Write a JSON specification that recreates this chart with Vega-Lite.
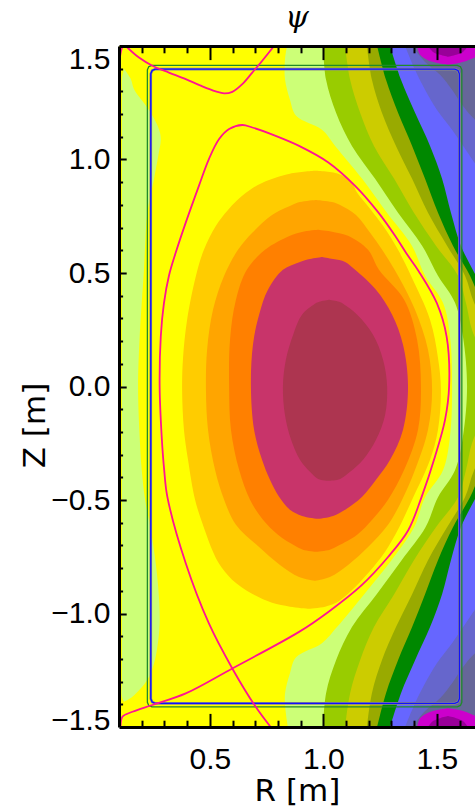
{
"$schema": "https://vega.github.io/schema/vega-lite/v6.json",
"width": 356,
"height": 681,
"autosize": {"type": "none"},
"padding": {"left": 119, "top": 46, "right": 0, "bottom": 79},
"background": "#ffffff",
"config": {"view": {"stroke": null, "fill": "#666699"}},
"title": {"text": "ψ", "font": "DejaVu Serif", "fontStyle": "italic", "fontWeight": "normal", "fontSize": 30, "color": "#000000", "anchor": "middle", "offset": 12, "dy": 26, "baseline": "alphabetic"},
"datasets": {
"b": [
{"k":"mt","z":1.5,"r1":1.413,"r2":1.69},{"k":"mt","z":1.461,"r1":1.426,"r2":1.681},{"k":"mt","z":1.439,"r1":1.457,"r2":1.642},{"k":"mt","z":1.426,"r1":1.497,"r2":1.602},{"k":"mt","z":1.417,"r1":1.549,"r2":1.549},
{"k":"mb","z":-1.5,"r1":1.413,"r2":1.69},{"k":"mb","z":-1.461,"r1":1.426,"r2":1.681},{"k":"mb","z":-1.439,"r1":1.457,"r2":1.642},{"k":"mb","z":-1.426,"r1":1.497,"r2":1.602},{"k":"mb","z":-1.417,"r1":1.549,"r2":1.549},
{"k":"dt","z":1.5,"r1":1.461,"r2":1.637},{"k":"dt","z":1.474,"r1":1.483,"r2":1.615},{"k":"dt","z":1.461,"r1":1.514,"r2":1.585},{"k":"dt","z":1.452,"r1":1.549,"r2":1.549},
{"k":"db","z":-1.5,"r1":1.461,"r2":1.637},{"k":"db","z":-1.474,"r1":1.483,"r2":1.615},{"k":"db","z":-1.461,"r1":1.514,"r2":1.585},{"k":"db","z":-1.452,"r1":1.549,"r2":1.549},
{"k":"sl","z":1.5,"r1":0.1,"r2":1.391},{"k":"sl","z":1.43,"r1":0.1,"r2":1.448},{"k":"sl","z":1.373,"r1":0.1,"r2":1.514},{"k":"sl","z":1.307,"r1":0.1,"r2":1.567},{"k":"sl","z":1.241,"r1":0.1,"r2":1.611},{"k":"sl","z":1.175,"r1":0.1,"r2":1.668},{"k":"sl","z":1.109,"r1":0.1,"r2":1.756},
{"k":"sl","z":-1.109,"r1":0.1,"r2":1.756},{"k":"sl","z":-1.175,"r1":0.1,"r2":1.668},{"k":"sl","z":-1.241,"r1":0.1,"r2":1.611},{"k":"sl","z":-1.307,"r1":0.1,"r2":1.567},{"k":"sl","z":-1.373,"r1":0.1,"r2":1.514},{"k":"sl","z":-1.43,"r1":0.1,"r2":1.448},{"k":"sl","z":-1.5,"r1":0.1,"r2":1.391},
{"k":"bl","z":1.5,"r1":0.1,"r2":1.36},{"k":"bl","z":1.395,"r1":0.1,"r2":1.404},{"k":"bl","z":1.307,"r1":0.1,"r2":1.448},{"k":"bl","z":1.219,"r1":0.1,"r2":1.5},{"k":"bl","z":1.131,"r1":0.1,"r2":1.567},{"k":"bl","z":1.042,"r1":0.1,"r2":1.628},{"k":"bl","z":0.954,"r1":0.1,"r2":1.69},{"k":"bl","z":0.867,"r1":0.1,"r2":1.778},
{"k":"bl","z":-0.867,"r1":0.1,"r2":1.778},{"k":"bl","z":-0.954,"r1":0.1,"r2":1.69},{"k":"bl","z":-1.042,"r1":0.1,"r2":1.628},{"k":"bl","z":-1.131,"r1":0.1,"r2":1.567},{"k":"bl","z":-1.219,"r1":0.1,"r2":1.5},{"k":"bl","z":-1.307,"r1":0.1,"r2":1.448},{"k":"bl","z":-1.395,"r1":0.1,"r2":1.404},{"k":"bl","z":-1.5,"r1":0.1,"r2":1.36},
{"k":"gr","z":1.5,"r1":0.1,"r2":1.294},{"k":"gr","z":1.351,"r1":0.1,"r2":1.342},{"k":"gr","z":1.206,"r1":0.1,"r2":1.404},{"k":"gr","z":1.06,"r1":0.1,"r2":1.47},{"k":"gr","z":0.915,"r1":0.1,"r2":1.523},{"k":"gr","z":0.765,"r1":0.1,"r2":1.562},{"k":"gr","z":0.62,"r1":0.1,"r2":1.606},{"k":"gr","z":0.488,"r1":0.1,"r2":1.672},{"k":"gr","z":0.369,"r1":0.1,"r2":1.734},
{"k":"gr","z":-0.369,"r1":0.1,"r2":1.734},{"k":"gr","z":-0.488,"r1":0.1,"r2":1.672},{"k":"gr","z":-0.62,"r1":0.1,"r2":1.606},{"k":"gr","z":-0.765,"r1":0.1,"r2":1.562},{"k":"gr","z":-0.915,"r1":0.1,"r2":1.523},{"k":"gr","z":-1.06,"r1":0.1,"r2":1.47},{"k":"gr","z":-1.206,"r1":0.1,"r2":1.404},{"k":"gr","z":-1.351,"r1":0.1,"r2":1.342},{"k":"gr","z":-1.5,"r1":0.1,"r2":1.294},
{"k":"ol","z":1.5,"r1":0.1,"r2":1.237},{"k":"ol","z":1.351,"r1":0.1,"r2":1.276},{"k":"ol","z":1.206,"r1":0.1,"r2":1.329},{"k":"ol","z":1.06,"r1":0.1,"r2":1.391},{"k":"ol","z":0.915,"r1":0.1,"r2":1.448},{"k":"ol","z":0.765,"r1":0.1,"r2":1.505},{"k":"ol","z":0.62,"r1":0.1,"r2":1.571},{"k":"ol","z":0.488,"r1":0.1,"r2":1.646},{"k":"ol","z":0.369,"r1":0.1,"r2":1.699},{"k":"ol","z":0.249,"r1":0.1,"r2":1.778},
{"k":"ol","z":-0.249,"r1":0.1,"r2":1.778},{"k":"ol","z":-0.369,"r1":0.1,"r2":1.699},{"k":"ol","z":-0.488,"r1":0.1,"r2":1.646},{"k":"ol","z":-0.62,"r1":0.1,"r2":1.571},{"k":"ol","z":-0.765,"r1":0.1,"r2":1.505},{"k":"ol","z":-0.915,"r1":0.1,"r2":1.448},{"k":"ol","z":-1.06,"r1":0.1,"r2":1.391},{"k":"ol","z":-1.206,"r1":0.1,"r2":1.329},{"k":"ol","z":-1.351,"r1":0.1,"r2":1.276},{"k":"ol","z":-1.5,"r1":0.1,"r2":1.237},
{"k":"oy","z":1.5,"r1":0.1,"r2":1.192},{"k":"oy","z":1.351,"r1":0.1,"r2":1.214},{"k":"oy","z":1.206,"r1":0.1,"r2":1.258},{"k":"oy","z":1.06,"r1":0.1,"r2":1.32},{"k":"oy","z":0.915,"r1":0.1,"r2":1.391},{"k":"oy","z":0.765,"r1":0.1,"r2":1.461},{"k":"oy","z":0.62,"r1":0.1,"r2":1.545},{"k":"oy","z":0.488,"r1":0.1,"r2":1.624},{"k":"oy","z":0.369,"r1":0.1,"r2":1.664},{"k":"oy","z":0.249,"r1":0.1,"r2":1.734},{"k":"oy","z":0.15,"r1":0.1,"r2":1.78},
{"k":"oy","z":-0.15,"r1":0.1,"r2":1.78},{"k":"oy","z":-0.249,"r1":0.1,"r2":1.734},{"k":"oy","z":-0.369,"r1":0.1,"r2":1.664},{"k":"oy","z":-0.488,"r1":0.1,"r2":1.624},{"k":"oy","z":-0.62,"r1":0.1,"r2":1.545},{"k":"oy","z":-0.765,"r1":0.1,"r2":1.461},{"k":"oy","z":-0.915,"r1":0.1,"r2":1.391},{"k":"oy","z":-1.06,"r1":0.1,"r2":1.32},{"k":"oy","z":-1.206,"r1":0.1,"r2":1.258},{"k":"oy","z":-1.351,"r1":0.1,"r2":1.214},{"k":"oy","z":-1.5,"r1":0.1,"r2":1.192},
{"k":"yg","z":1.5,"r1":0.1,"r2":1.096},{"k":"yg","z":1.351,"r1":0.1,"r2":1.118},{"k":"yg","z":1.206,"r1":0.1,"r2":1.162},{"k":"yg","z":1.06,"r1":0.1,"r2":1.223},{"k":"yg","z":0.915,"r1":0.1,"r2":1.312},{"k":"yg","z":0.765,"r1":0.1,"r2":1.399},{"k":"yg","z":0.62,"r1":0.1,"r2":1.496},{"k":"yg","z":0.488,"r1":0.1,"r2":1.593},{"k":"yg","z":0.369,"r1":0.1,"r2":1.628},{"k":"yg","z":0.249,"r1":0.1,"r2":1.655},{"k":"yg","z":0.118,"r1":0.1,"r2":1.712},{"k":"yg","z":0,"r1":0.1,"r2":1.734},
{"k":"yg","z":-0.118,"r1":0.1,"r2":1.712},{"k":"yg","z":-0.249,"r1":0.1,"r2":1.655},{"k":"yg","z":-0.369,"r1":0.1,"r2":1.628},{"k":"yg","z":-0.488,"r1":0.1,"r2":1.593},{"k":"yg","z":-0.62,"r1":0.1,"r2":1.496},{"k":"yg","z":-0.765,"r1":0.1,"r2":1.399},{"k":"yg","z":-0.915,"r1":0.1,"r2":1.312},{"k":"yg","z":-1.06,"r1":0.1,"r2":1.223},{"k":"yg","z":-1.206,"r1":0.1,"r2":1.162},{"k":"yg","z":-1.351,"r1":0.1,"r2":1.118},{"k":"yg","z":-1.5,"r1":0.1,"r2":1.096},
{"k":"lg","z":1.5,"r1":0.1,"r2":0.999},{"k":"lg","z":1.351,"r1":0.1,"r2":1.012},{"k":"lg","z":1.206,"r1":0.1,"r2":1.056},{"k":"lg","z":1.06,"r1":0.1,"r2":1.126},{"k":"lg","z":0.915,"r1":0.1,"r2":1.228},{"k":"lg","z":0.765,"r1":0.1,"r2":1.329},{"k":"lg","z":0.62,"r1":0.1,"r2":1.435},{"k":"lg","z":0.488,"r1":0.1,"r2":1.505},{"k":"lg","z":0.369,"r1":0.1,"r2":1.58},{"k":"lg","z":0.219,"r1":0.1,"r2":1.615},{"k":"lg","z":0,"r1":0.1,"r2":1.633},
{"k":"lg","z":-0.219,"r1":0.1,"r2":1.615},{"k":"lg","z":-0.369,"r1":0.1,"r2":1.58},{"k":"lg","z":-0.488,"r1":0.1,"r2":1.505},{"k":"lg","z":-0.62,"r1":0.1,"r2":1.45},{"k":"lg","z":-0.765,"r1":0.1,"r2":1.345},{"k":"lg","z":-0.915,"r1":0.1,"r2":1.235},{"k":"lg","z":-1.06,"r1":0.1,"r2":1.126},{"k":"lg","z":-1.206,"r1":0.1,"r2":1.056},{"k":"lg","z":-1.351,"r1":0.1,"r2":1.012},{"k":"lg","z":-1.5,"r1":0.1,"r2":0.999},
{"k":"ye","z":1.5,"r1":0.1,"r2":0.84},{"k":"ye","z":1.439,"r1":0.1,"r2":0.831},{"k":"ye","z":1.355,"r1":0.1,"r2":0.831},{"k":"ye","z":1.263,"r1":0.1,"r2":0.853},{"k":"ye","z":1.193,"r1":0.1,"r2":0.88},{"k":"ye","z":1.131,"r1":0.1,"r2":0.994},{"k":"ye","z":1.06,"r1":0.1,"r2":1.052},{"k":"ye","z":0.915,"r1":0.1,"r2":1.171},{"k":"ye","z":0.765,"r1":0.1,"r2":1.28},{"k":"ye","z":0.62,"r1":0.1,"r2":1.39},{"k":"ye","z":0.488,"r1":0.1,"r2":1.448},{"k":"ye","z":0.369,"r1":0.1,"r2":1.527},{"k":"ye","z":0.219,"r1":0.1,"r2":1.558},{"k":"ye","z":0,"r1":0.1,"r2":1.567},
{"k":"ye","z":-0.219,"r1":0.1,"r2":1.558},{"k":"ye","z":-0.369,"r1":0.1,"r2":1.527},{"k":"ye","z":-0.488,"r1":0.1,"r2":1.448},{"k":"ye","z":-0.62,"r1":0.1,"r2":1.4},{"k":"ye","z":-0.765,"r1":0.1,"r2":1.3},{"k":"ye","z":-0.915,"r1":0.1,"r2":1.18},{"k":"ye","z":-1.06,"r1":0.1,"r2":1.06},{"k":"ye","z":-1.131,"r1":0.1,"r2":0.994},{"k":"ye","z":-1.193,"r1":0.1,"r2":0.88},{"k":"ye","z":-1.263,"r1":0.1,"r2":0.853},{"k":"ye","z":-1.355,"r1":0.1,"r2":0.831},{"k":"ye","z":-1.439,"r1":0.1,"r2":0.835},{"k":"ye","z":-1.5,"r1":0.1,"r2":0.844},
{"k":"st","z":1.4,"r1":0.122,"r2":0.122},{"k":"st","z":1.355,"r1":0.113,"r2":0.152},{"k":"st","z":1.31,"r1":0.113,"r2":0.166},{"k":"st","z":1.249,"r1":0.113,"r2":0.21},{"k":"st","z":1.206,"r1":0.113,"r2":0.24},{"k":"st","z":1.133,"r1":0.113,"r2":0.276},{"k":"st","z":1.09,"r1":0.113,"r2":0.284},{"k":"st","z":1.016,"r1":0.113,"r2":0.273},{"k":"st","z":0.914,"r1":0.113,"r2":0.254},{"k":"st","z":0.767,"r1":0.113,"r2":0.225},{"k":"st","z":0.62,"r1":0.113,"r2":0.215},{"k":"st","z":0.514,"r1":0.113,"r2":0.21},{"k":"st","z":0.367,"r1":0.113,"r2":0.2},{"k":"st","z":0.219,"r1":0.113,"r2":0.191},{"k":"st","z":0,"r1":0.113,"r2":0.184},
{"k":"st","z":-0.221,"r1":0.113,"r2":0.191},{"k":"st","z":-0.367,"r1":0.113,"r2":0.2},{"k":"st","z":-0.499,"r1":0.113,"r2":0.215},{"k":"st","z":-0.631,"r1":0.113,"r2":0.24},{"k":"st","z":-0.781,"r1":0.113,"r2":0.262},{"k":"st","z":-0.928,"r1":0.113,"r2":0.276},{"k":"st","z":-1.046,"r1":0.113,"r2":0.279},{"k":"st","z":-1.147,"r1":0.113,"r2":0.269},{"k":"st","z":-1.221,"r1":0.113,"r2":0.254},{"k":"st","z":-1.292,"r1":0.113,"r2":0.225},{"k":"st","z":-1.367,"r1":0.113,"r2":0.159},{"k":"st","z":-1.389,"r1":0.122,"r2":0.122},
{"k":"go","z":0.95,"r1":0.963,"r2":0.963},{"k":"go","z":0.937,"r1":0.853,"r2":1.065},{"k":"go","z":0.897,"r1":0.73,"r2":1.126},{"k":"go","z":0.853,"r1":0.659,"r2":1.149},{"k":"go","z":0.778,"r1":0.58,"r2":1.21},{"k":"go","z":0.708,"r1":0.527,"r2":1.263},{"k":"go","z":0.602,"r1":0.474,"r2":1.329},{"k":"go","z":0.488,"r1":0.439,"r2":1.386},{"k":"go","z":0.294,"r1":0.4,"r2":1.47},{"k":"go","z":0.126,"r1":0.382,"r2":1.505},{"k":"go","z":-0.015,"r1":0.378,"r2":1.518},
{"k":"go","z":-0.19,"r1":0.386,"r2":1.505},{"k":"go","z":-0.323,"r1":0.404,"r2":1.47},{"k":"go","z":-0.499,"r1":0.435,"r2":1.391},{"k":"go","z":-0.622,"r1":0.474,"r2":1.333},{"k":"go","z":-0.728,"r1":0.514,"r2":1.272},{"k":"go","z":-0.781,"r1":0.541,"r2":1.232},{"k":"go","z":-0.851,"r1":0.598,"r2":1.171},{"k":"go","z":-0.913,"r1":0.686,"r2":1.109},{"k":"go","z":-0.953,"r1":0.774,"r2":1.056},{"k":"go","z":-0.97,"r1":0.853,"r2":1.008},{"k":"go","z":-0.979,"r1":0.933,"r2":0.933},
{"k":"or","z":0.822,"r1":0.968,"r2":0.968},{"k":"or","z":0.813,"r1":0.897,"r2":1.038},{"k":"or","z":0.8,"r1":0.862,"r2":1.074},{"k":"or","z":0.756,"r1":0.774,"r2":1.144},{"k":"or","z":0.677,"r1":0.687,"r2":1.206},{"k":"or","z":0.602,"r1":0.624,"r2":1.259},{"k":"or","z":0.488,"r1":0.563,"r2":1.329},{"k":"or","z":0.338,"r1":0.514,"r2":1.404},{"k":"or","z":0.162,"r1":0.488,"r2":1.461},{"k":"or","z":-0.015,"r1":0.483,"r2":1.479},
{"k":"or","z":-0.19,"r1":0.492,"r2":1.461},{"k":"or","z":-0.367,"r1":0.523,"r2":1.404},{"k":"or","z":-0.499,"r1":0.563,"r2":1.347},{"k":"or","z":-0.609,"r1":0.615,"r2":1.285},{"k":"or","z":-0.707,"r1":0.717,"r2":1.197},{"k":"or","z":-0.786,"r1":0.809,"r2":1.109},{"k":"or","z":-0.839,"r1":0.893,"r2":1.029},{"k":"or","z":-0.856,"r1":0.963,"r2":0.963},
{"k":"dk","z":0.69,"r1":0.977,"r2":0.977},{"k":"dk","z":0.681,"r1":0.906,"r2":1.043},{"k":"dk","z":0.664,"r1":0.853,"r2":1.109},{"k":"dk","z":0.602,"r1":0.743,"r2":1.197},{"k":"dk","z":0.514,"r1":0.663,"r2":1.245},{"k":"dk","z":0.382,"r1":0.615,"r2":1.356},{"k":"dk","z":0.206,"r1":0.589,"r2":1.413},{"k":"dk","z":0,"r1":0.585,"r2":1.43},
{"k":"dk","z":-0.19,"r1":0.593,"r2":1.417},{"k":"dk","z":-0.367,"r1":0.629,"r2":1.356},{"k":"dk","z":-0.499,"r1":0.677,"r2":1.285},{"k":"dk","z":-0.587,"r1":0.734,"r2":1.215},{"k":"dk","z":-0.653,"r1":0.8,"r2":1.149},{"k":"dk","z":-0.702,"r1":0.875,"r2":1.065},{"k":"dk","z":-0.719,"r1":0.91,"r2":1.029},{"k":"dk","z":-0.728,"r1":0.968,"r2":0.968},
{"k":"cr","z":0.571,"r1":0.994,"r2":0.994},{"k":"cr","z":0.562,"r1":0.941,"r2":1.043},{"k":"cr","z":0.549,"r1":0.897,"r2":1.096},{"k":"cr","z":0.514,"r1":0.822,"r2":1.14},{"k":"cr","z":0.426,"r1":0.756,"r2":1.232},{"k":"cr","z":0.316,"r1":0.717,"r2":1.303},{"k":"cr","z":0.184,"r1":0.69,"r2":1.351},{"k":"cr","z":0,"r1":0.681,"r2":1.373},
{"k":"cr","z":-0.19,"r1":0.695,"r2":1.351},{"k":"cr","z":-0.323,"r1":0.73,"r2":1.294},{"k":"cr","z":-0.411,"r1":0.765,"r2":1.232},{"k":"cr","z":-0.486,"r1":0.805,"r2":1.171},{"k":"cr","z":-0.543,"r1":0.853,"r2":1.096},{"k":"cr","z":-0.57,"r1":0.906,"r2":1.043},{"k":"cr","z":-0.583,"r1":0.977,"r2":0.977},
{"k":"co","z":0.382,"r1":1.025,"r2":1.025},{"k":"co","z":0.373,"r1":0.982,"r2":1.07},{"k":"co","z":0.364,"r1":0.963,"r2":1.087},{"k":"co","z":0.316,"r1":0.906,"r2":1.149},{"k":"co","z":0.228,"r1":0.867,"r2":1.219},{"k":"co","z":0.118,"r1":0.835,"r2":1.263},{"k":"co","z":0,"r1":0.822,"r2":1.281},
{"k":"co","z":-0.125,"r1":0.831,"r2":1.272},{"k":"co","z":-0.235,"r1":0.858,"r2":1.232},{"k":"co","z":-0.323,"r1":0.897,"r2":1.175},{"k":"co","z":-0.376,"r1":0.941,"r2":1.118},{"k":"co","z":-0.407,"r1":0.977,"r2":1.074},{"k":"co","z":-0.415,"r1":1.025,"r2":1.025}
],
"l": [
{"k":"wy","i":0,"r1":0.26,"z":1.398},{"k":"wy","i":1,"r1":1.579,"z":1.398},{"k":"wy","i":2,"r1":1.593,"z":1.392},{"k":"wy","i":3,"r1":1.599,"z":1.378},{"k":"wy","i":4,"r1":1.599,"z":-1.376},{"k":"wy","i":5,"r1":1.593,"z":-1.39},{"k":"wy","i":6,"r1":1.579,"z":-1.396},{"k":"wy","i":7,"r1":0.26,"z":-1.396},{"k":"wy","i":8,"r1":0.246,"z":-1.39},{"k":"wy","i":9,"r1":0.24,"z":-1.376},{"k":"wy","i":10,"r1":0.24,"z":1.378},{"k":"wy","i":11,"r1":0.246,"z":1.392},{"k":"wy","i":12,"r1":0.26,"z":1.398},
{"k":"wb","i":0,"r1":0.26,"z":1.398},{"k":"wb","i":1,"r1":1.579,"z":1.398},{"k":"wb","i":2,"r1":1.593,"z":1.392},{"k":"wb","i":3,"r1":1.599,"z":1.378},{"k":"wb","i":4,"r1":1.599,"z":-1.376},{"k":"wb","i":5,"r1":1.593,"z":-1.39},{"k":"wb","i":6,"r1":1.579,"z":-1.396},{"k":"wb","i":7,"r1":0.26,"z":-1.396},{"k":"wb","i":8,"r1":0.246,"z":-1.39},{"k":"wb","i":9,"r1":0.24,"z":-1.376},{"k":"wb","i":10,"r1":0.24,"z":1.378},{"k":"wb","i":11,"r1":0.246,"z":1.392},{"k":"wb","i":12,"r1":0.26,"z":1.398},
{"k":"wg","i":0,"r1":0.245,"z":1.415},{"k":"wg","i":1,"r1":1.59,"z":1.415},{"k":"wg","i":2,"r1":1.604,"z":1.409},{"k":"wg","i":3,"r1":1.61,"z":1.395},{"k":"wg","i":4,"r1":1.61,"z":-1.391},{"k":"wg","i":5,"r1":1.604,"z":-1.405},{"k":"wg","i":6,"r1":1.59,"z":-1.411},{"k":"wg","i":7,"r1":0.245,"z":-1.411},{"k":"wg","i":8,"r1":0.231,"z":-1.405},{"k":"wg","i":9,"r1":0.225,"z":-1.391},{"k":"wg","i":10,"r1":0.225,"z":1.395},{"k":"wg","i":11,"r1":0.231,"z":1.409},{"k":"wg","i":12,"r1":0.245,"z":1.415},
{"k":"lc","i":0,"r1":0.768,"z":-1.5},{"k":"lc","i":1,"r1":0.702,"z":-1.411},{"k":"lc","i":2,"r1":0.599,"z":-1.242},{"k":"lc","i":3,"r1":0.496,"z":-1.044},{"k":"lc","i":4,"r1":0.394,"z":-0.779},{"k":"lc","i":5,"r1":0.313,"z":-0.486},{"k":"lc","i":6,"r1":0.299,"z":-0.367},{"k":"lc","i":7,"r1":0.288,"z":-0.22},{"k":"lc","i":8,"r1":0.279,"z":0},{"k":"lc","i":9,"r1":0.284,"z":0.22},{"k":"lc","i":10,"r1":0.298,"z":0.367},{"k":"lc","i":11,"r1":0.32,"z":0.488},{"k":"lc","i":12,"r1":0.35,"z":0.59},{"k":"lc","i":13,"r1":0.394,"z":0.722},{"k":"lc","i":14,"r1":0.452,"z":0.884},{"k":"lc","i":15,"r1":0.496,"z":1.002},{"k":"lc","i":16,"r1":0.541,"z":1.09},{"k":"lc","i":17,"r1":0.585,"z":1.134},{"k":"lc","i":18,"r1":0.643,"z":1.152},{"k":"lc","i":19,"r1":0.687,"z":1.141},{"k":"lc","i":20,"r1":0.79,"z":1.104},{"k":"lc","i":21,"r1":0.893,"z":1.06},{"k":"lc","i":22,"r1":1.022,"z":0.987},{"k":"lc","i":23,"r1":1.14,"z":0.884},{"k":"lc","i":24,"r1":1.242,"z":0.767},{"k":"lc","i":25,"r1":1.316,"z":0.664},{"k":"lc","i":26,"r1":1.37,"z":0.58},{"k":"lc","i":27,"r1":1.42,"z":0.508},{"k":"lc","i":28,"r1":1.5,"z":0.367},{"k":"lc","i":29,"r1":1.543,"z":0.22},{"k":"lc","i":30,"r1":1.554,"z":0},{"k":"lc","i":31,"r1":1.536,"z":-0.147},{"k":"lc","i":32,"r1":1.492,"z":-0.308},{"k":"lc","i":33,"r1":1.433,"z":-0.486},{"k":"lc","i":34,"r1":1.374,"z":-0.633},{"k":"lc","i":35,"r1":1.286,"z":-0.75},{"k":"lc","i":36,"r1":1.169,"z":-0.875},{"k":"lc","i":37,"r1":1.022,"z":-0.993},{"k":"lc","i":38,"r1":0.893,"z":-1.081},{"k":"lc","i":39,"r1":0.599,"z":-1.242},{"k":"lc","i":40,"r1":0.394,"z":-1.352},{"k":"lc","i":41,"r1":0.247,"z":-1.403},{"k":"lc","i":42,"r1":0.159,"z":-1.433},{"k":"lc","i":43,"r1":0.115,"z":-1.455},{"k":"lc","i":44,"r1":0.107,"z":-1.5},
{"k":"xa","i":0,"r1":0.13,"z":1.5},{"k":"xa","i":1,"r1":0.188,"z":1.449},{"k":"xa","i":2,"r1":0.247,"z":1.413},{"k":"xa","i":3,"r1":0.32,"z":1.383},{"k":"xa","i":4,"r1":0.394,"z":1.354},{"k":"xa","i":5,"r1":0.467,"z":1.322},{"k":"xa","i":6,"r1":0.526,"z":1.3},{"k":"xa","i":7,"r1":0.563,"z":1.291},{"k":"xa","i":8,"r1":0.599,"z":1.298},{"k":"xa","i":9,"r1":0.643,"z":1.332},{"k":"xa","i":10,"r1":0.687,"z":1.383},{"k":"xa","i":11,"r1":0.731,"z":1.435},{"k":"xa","i":12,"r1":0.783,"z":1.5},
{"k":"ar","i":0,"r1":0.1,"z":1.42},{"k":"ar","i":1,"r1":0.104,"z":1.45},{"k":"ar","i":2,"r1":0.109,"z":1.478},{"k":"ar","i":3,"r1":0.116,"z":1.5}
]
},
"encoding": {
"x": {"field": "r1", "type": "quantitative", "scale": {"domain": [0.1, 1.668], "nice": false, "zero": false}, "axis": null, "stack": null},
"y": {"field": "z", "type": "quantitative", "scale": {"domain": [-1.5, 1.5], "nice": false, "zero": false}, "axis": null}
},
"layer": [
{"data": {"name": "b"}, "transform": [{"filter": {"field": "k", "oneOf": ["mt", "mb"]}}], "mark": {"type": "area", "orient": "horizontal", "interpolate": "catmull-rom", "color": "#cc00cc", "clip": true}, "encoding": {"x2": {"field": "r2"}, "detail": {"field": "k", "type": "nominal"}}},
{"data": {"name": "b"}, "transform": [{"filter": {"field": "k", "oneOf": ["dt", "db"]}}], "mark": {"type": "area", "orient": "horizontal", "interpolate": "catmull-rom", "color": "#990099", "clip": true}, "encoding": {"x2": {"field": "r2"}, "detail": {"field": "k", "type": "nominal"}}},
{"data": {"name": "b"}, "transform": [{"filter": {"field": "k", "equal": "sl"}}], "mark": {"type": "area", "orient": "horizontal", "interpolate": "catmull-rom", "color": "#6666cc", "clip": true}, "encoding": {"x2": {"field": "r2"}}},
{"data": {"name": "b"}, "transform": [{"filter": {"field": "k", "equal": "bl"}}], "mark": {"type": "area", "orient": "horizontal", "interpolate": "catmull-rom", "color": "#6666ff", "clip": true}, "encoding": {"x2": {"field": "r2"}}},
{"data": {"name": "b"}, "transform": [{"filter": {"field": "k", "equal": "gr"}}], "mark": {"type": "area", "orient": "horizontal", "interpolate": "catmull-rom", "color": "#008800", "clip": true}, "encoding": {"x2": {"field": "r2"}}},
{"data": {"name": "b"}, "transform": [{"filter": {"field": "k", "equal": "ol"}}], "mark": {"type": "area", "orient": "horizontal", "interpolate": "catmull-rom", "color": "#99aa00", "clip": true}, "encoding": {"x2": {"field": "r2"}}},
{"data": {"name": "b"}, "transform": [{"filter": {"field": "k", "equal": "oy"}}], "mark": {"type": "area", "orient": "horizontal", "interpolate": "catmull-rom", "color": "#cccc00", "clip": true}, "encoding": {"x2": {"field": "r2"}}},
{"data": {"name": "b"}, "transform": [{"filter": {"field": "k", "equal": "yg"}}], "mark": {"type": "area", "orient": "horizontal", "interpolate": "catmull-rom", "color": "#99cc00", "clip": true}, "encoding": {"x2": {"field": "r2"}}},
{"data": {"name": "b"}, "transform": [{"filter": {"field": "k", "equal": "lg"}}], "mark": {"type": "area", "orient": "horizontal", "interpolate": "catmull-rom", "color": "#ccff77", "clip": true}, "encoding": {"x2": {"field": "r2"}}},
{"data": {"name": "b"}, "transform": [{"filter": {"field": "k", "equal": "ye"}}], "mark": {"type": "area", "orient": "horizontal", "interpolate": "catmull-rom", "color": "#ffff00", "clip": true}, "encoding": {"x2": {"field": "r2"}}},
{"data": {"name": "b"}, "transform": [{"filter": {"field": "k", "equal": "st"}}], "mark": {"type": "area", "orient": "horizontal", "interpolate": "catmull-rom", "color": "#ccff77", "clip": true}, "encoding": {"x2": {"field": "r2"}}},
{"data": {"name": "b"}, "transform": [{"filter": {"field": "k", "equal": "go"}}], "mark": {"type": "area", "orient": "horizontal", "interpolate": "catmull-rom", "color": "#ffcc00", "clip": true}, "encoding": {"x2": {"field": "r2"}}},
{"data": {"name": "b"}, "transform": [{"filter": {"field": "k", "equal": "or"}}], "mark": {"type": "area", "orient": "horizontal", "interpolate": "catmull-rom", "color": "#ffa500", "clip": true}, "encoding": {"x2": {"field": "r2"}}},
{"data": {"name": "b"}, "transform": [{"filter": {"field": "k", "equal": "dk"}}], "mark": {"type": "area", "orient": "horizontal", "interpolate": "catmull-rom", "color": "#ff8000", "clip": true}, "encoding": {"x2": {"field": "r2"}}},
{"data": {"name": "b"}, "transform": [{"filter": {"field": "k", "equal": "cr"}}], "mark": {"type": "area", "orient": "horizontal", "interpolate": "catmull-rom", "color": "#c8346a", "clip": true}, "encoding": {"x2": {"field": "r2"}}},
{"data": {"name": "b"}, "transform": [{"filter": {"field": "k", "equal": "co"}}], "mark": {"type": "area", "orient": "horizontal", "interpolate": "catmull-rom", "color": "#ad3550", "clip": true}, "encoding": {"x2": {"field": "r2"}}},
{"data": {"name": "l"}, "transform": [{"filter": {"field": "k", "equal": "wy"}}], "mark": {"type": "line", "color": "#8a8a8a", "strokeWidth": 2.6, "clip": true}, "encoding": {"order": {"field": "i", "type": "quantitative"}}},
{"data": {"name": "l"}, "transform": [{"filter": {"field": "k", "equal": "wb"}}], "mark": {"type": "line", "color": "#1010ff", "strokeWidth": 1.3, "clip": true}, "encoding": {"order": {"field": "i", "type": "quantitative"}}},
{"data": {"name": "l"}, "transform": [{"filter": {"field": "k", "equal": "wg"}}], "mark": {"type": "line", "color": "#1f8a2a", "strokeWidth": 1.3, "clip": true}, "encoding": {"order": {"field": "i", "type": "quantitative"}}},
{"data": {"name": "l"}, "transform": [{"filter": {"field": "k", "oneOf": ["lc", "xa", "ar"]}}], "mark": {"type": "line", "color": "#ff1493", "strokeWidth": 1.8, "interpolate": "catmull-rom", "clip": true}, "encoding": {"detail": {"field": "k", "type": "nominal"}, "order": {"field": "i", "type": "quantitative"}}},
{"data": {"name": "l"}, "mark": {"type": "point", "opacity": 0},
 "encoding": {
  "x": {"field": "r1", "type": "quantitative", "scale": {"domain": [0.1, 1.668], "nice": false, "zero": false},
   "axis": {"orient": "bottom", "values": [0.5, 1.0, 1.5], "format": ".1f", "ticks": false, "grid": false, "domain": true, "domainColor": "#000000", "domainWidth": 3, "labelFont": "Liberation Sans", "labelFontSize": 30, "labelColor": "#000000", "labelPadding": 17, "labelFlush": false, "labelOverlap": false, "title": "R [m]", "titleFont": "DejaVu Sans", "titleFontSize": 31, "titleFontWeight": "normal", "titleColor": "#000000", "titleY": 73, "titleBaseline": "alphabetic", "zindex": 2}},
  "y": {"field": "z", "type": "quantitative", "scale": {"domain": [-1.5, 1.5], "nice": false, "zero": false},
   "axis": {"orient": "left", "values": [-1.5, -1.0, -0.5, 0, 0.5, 1.0, 1.5], "format": ".1f", "ticks": false, "grid": false, "domain": true, "domainColor": "#000000", "domainWidth": 3, "labelFont": "Liberation Sans", "labelFontSize": 30, "labelColor": "#000000", "labelPadding": 9, "labelFlush": false, "labelOverlap": false,
    "labelOffset": {"condition": [{"test": "datum.value > 1.4", "value": 13}, {"test": "datum.value < -1.4", "value": -7}], "value": 0},
    "title": "Z [m]", "titleFont": "DejaVu Sans", "titleFontSize": 31, "titleFontWeight": "normal", "titleColor": "#000000", "titleX": -84, "titleY": 379, "titleAngle": -90, "titleBaseline": "middle", "titleAlign": "center", "zindex": 2}}
 }},
{"data": {"name": "l"}, "mark": {"type": "point", "opacity": 0},
 "encoding": {
  "x": {"field": "r1", "type": "quantitative", "scale": {"domain": [0.1, 1.668], "nice": false, "zero": false},
   "axis": {"orient": "bottom", "values": [0.5, 1.0, 1.5], "ticks": true, "tickSize": -13.6, "tickWidth": 2, "tickColor": "#000000", "labels": false, "domain": false, "grid": false, "title": null, "zindex": 2}},
  "y": {"field": "z", "type": "quantitative", "scale": {"domain": [-1.5, 1.5], "nice": false, "zero": false},
   "axis": {"orient": "left", "values": [-1.0, -0.5, 0, 0.5, 1.0], "ticks": true, "tickSize": -7.2, "tickWidth": 2, "tickColor": "#000000", "labels": false, "domain": false, "grid": false, "title": null, "zindex": 2}}
 }},
{"data": {"name": "l"}, "mark": {"type": "point", "opacity": 0},
 "encoding": {
  "x": {"field": "r1", "type": "quantitative", "scale": {"domain": [0.1, 1.668], "nice": false, "zero": false},
   "axis": {"orient": "bottom", "values": [0.2, 0.3, 0.4, 0.6, 0.7, 0.8, 0.9, 1.1, 1.2, 1.3, 1.4, 1.6], "ticks": true, "tickSize": -6.8, "tickWidth": 2, "tickColor": "#000000", "labels": false, "domain": false, "grid": false, "title": null, "zindex": 2}},
  "y": {"field": "z", "type": "quantitative", "scale": {"domain": [-1.5, 1.5], "nice": false, "zero": false},
   "axis": {"orient": "left", "values": [-1.4, -1.3, -1.2, -1.1, -0.9, -0.8, -0.7, -0.6, -0.4, -0.3, -0.2, -0.1, 0.1, 0.2, 0.3, 0.4, 0.6, 0.7, 0.8, 0.9, 1.1, 1.2, 1.3, 1.4], "ticks": true, "tickSize": -3.6, "tickWidth": 2, "tickColor": "#000000", "labels": false, "domain": false, "grid": false, "title": null, "zindex": 2}}
 }},
{"data": {"name": "l"}, "mark": {"type": "point", "opacity": 0},
 "encoding": {
  "x": {"field": "r1", "type": "quantitative", "scale": {"domain": [0.1, 1.668], "nice": false, "zero": false},
   "axis": {"orient": "top", "values": [0.5, 1.0, 1.5], "ticks": true, "tickSize": -13.6, "tickWidth": 2, "tickColor": "#000000", "labels": false, "domain": true, "domainColor": "#000000", "domainWidth": 3, "grid": false, "title": null, "zindex": 2}}
 }},
{"data": {"name": "l"}, "mark": {"type": "point", "opacity": 0},
 "encoding": {
  "x": {"field": "r1", "type": "quantitative", "scale": {"domain": [0.1, 1.668], "nice": false, "zero": false},
   "axis": {"orient": "top", "values": [0.2, 0.3, 0.4, 0.6, 0.7, 0.8, 0.9, 1.1, 1.2, 1.3, 1.4, 1.6], "ticks": true, "tickSize": -6.8, "tickWidth": 2, "tickColor": "#000000", "labels": false, "domain": false, "grid": false, "title": null, "zindex": 2}}
 }}
],
"resolve": {"axis": {"x": "independent", "y": "independent"}}
}
